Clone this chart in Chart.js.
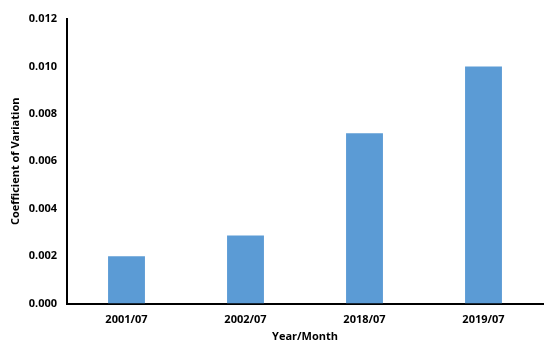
<!DOCTYPE html>
<html>
<head>
<meta charset="utf-8">
<script src="https://cdn.jsdelivr.net/npm/chart.js@4"></script>
<style>
  html, body { margin: 0; padding: 0; background: #fff; }
  #wrap { width: 550px; height: 355px; }
</style>
</head>
<body>
<div id="wrap"><canvas id="cvChart"></canvas></div>
<script>
/* data */
const categories = ["2001/07", "2002/07", "2018/07", "2019/07"];
const cvValues   = [0.0020, 0.00287, 0.00718, 0.0100];
const yTicks     = [0, 0.002, 0.004, 0.006, 0.008, 0.010, 0.012];

const FONT = "'Open Sans', 'DejaVu Sans', sans-serif";

const ctx = document.getElementById("cvChart").getContext("2d");

new Chart(ctx, {
    type: "bar",
    data: {
        labels: categories,
        datasets: [{
            label: "Coefficient of Variation",
            data: cvValues,
            backgroundColor: "#5b9bd5",
            barPercentage: 0.31,
            categoryPercentage: 1.0
        }]
    },
    options: {
        responsive: true,
        maintainAspectRatio: false,
        animation: false,
        layout: { padding: { top: 19, right: 7, bottom: 12, left: 9 } },
        plugins: {
            legend: { display: false },
            tooltip: { enabled: false }
        },
        scales: {
            x: {
                grid: { display: false, drawTicks: false },
                border: { color: "#000", width: 2 },
                ticks: {
                    color: "#000",
                    padding: 10,
                    font: { family: FONT, size: 11, weight: "bold" }
                },
                title: {
                    display: true,
                    text: "Year/Month",
                    color: "#000",
                    padding: { top: -7, bottom: 0 },
                    font: { family: FONT, size: 11, weight: "bold" }
                }
            },
            y: {
                min: 0,
                max: 0.012,
                afterBuildTicks: axis => {
                    axis.ticks = yTicks.map(v => ({ value: v }));
                },
                afterFit: axis => { axis.width = 58; },
                grid: { display: false, drawTicks: false },
                border: { color: "#000", width: 2 },
                ticks: {
                    color: "#000",
                    padding: 10,
                    font: { family: FONT, size: 11, weight: "bold" },
                    callback: v => Number(v).toFixed(3)
                },
                title: {
                    display: true,
                    text: "Coefficient of Variation",
                    color: "#000",
                    padding: { top: 0, bottom: 2 },
                    font: { family: FONT, size: 11, weight: "bold" }
                }
            }
        }
    }
});
</script>
</body>
</html>
